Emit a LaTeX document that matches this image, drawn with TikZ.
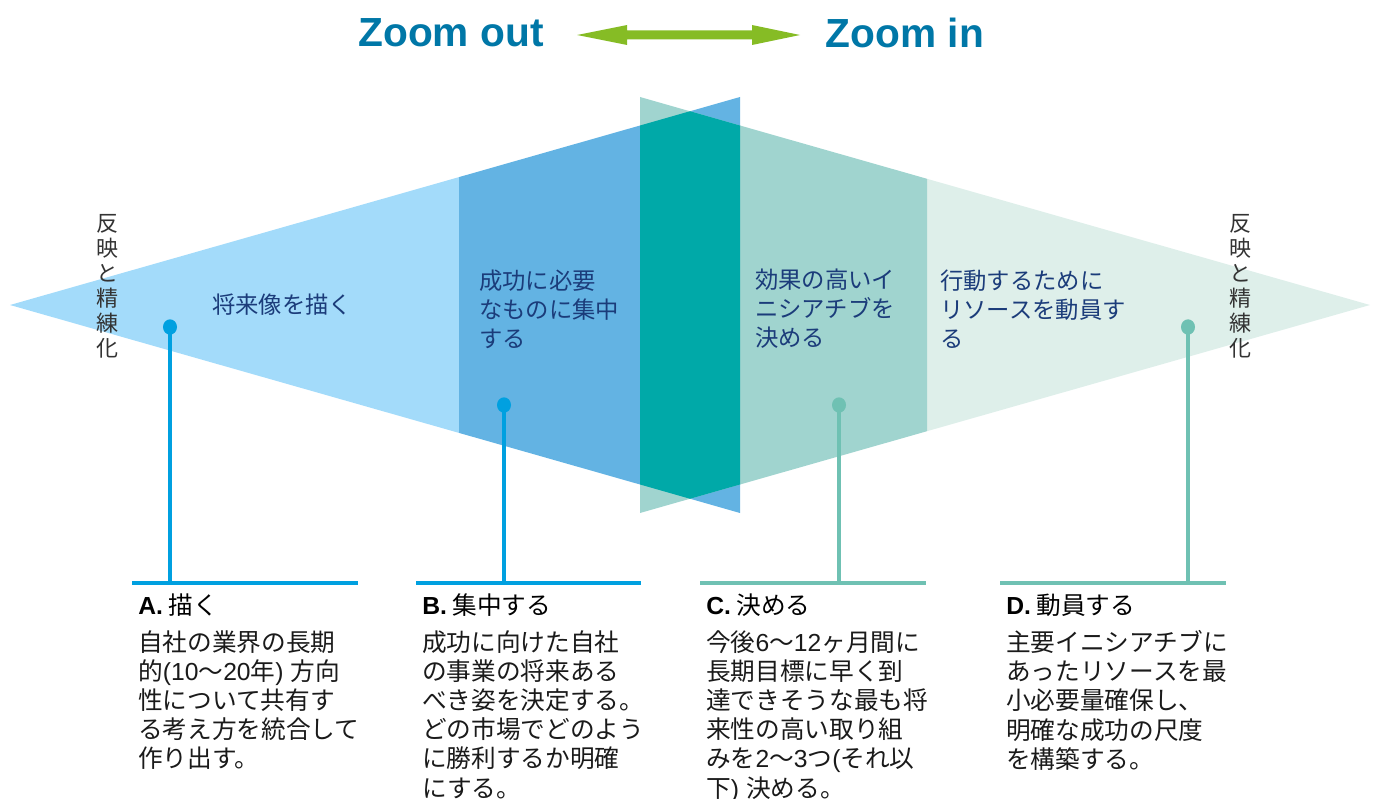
\documentclass[tikz,border=0pt]{standalone}
\usepackage{fontspec}
\setmainfont{Noto Sans CJK JP}
\newfontfamily\lat{Liberation Sans}
\usetikzlibrary{shapes.geometric}
\definecolor{ltblue}{HTML}{A3DBFA}
\definecolor{mdblue}{HTML}{63B3E3}
\definecolor{dkteal}{HTML}{00A9A8}
\definecolor{mdteal}{HTML}{A0D4CF}
\definecolor{ltteal}{HTML}{DEEFEA}
\definecolor{titleblue}{HTML}{0077A7}
\definecolor{arrowgreen}{HTML}{86BC25}
\definecolor{lineblue}{HTML}{00A0E0}
\definecolor{lineteal}{HTML}{6FC1B3}
\definecolor{navy}{HTML}{1B3C7A}
\definecolor{bodytext}{HTML}{1A1A1A}
\tikzset{
  titletext/.style={font=\lat\bfseries\fontsize{30.5}{36}\selectfont, text=titleblue, inner sep=0},
  lbl/.style={font=\fontsize{17.5}{21.75}\selectfont, text=navy, align=left, anchor=west, inner sep=0},
  vtext/.style={font=\fontsize{16.5}{18.75}\selectfont, text=black!80, align=center, inner sep=0},
  headtext/.style={font=\fontsize{18.5}{21.9}\selectfont, text=black, anchor=west, inner sep=0},
  body/.style={font=\fontsize{18.5}{21.9}\selectfont, text=bodytext, align=left, anchor=north west, inner sep=0},
  dotblue/.style={ellipse, fill=lineblue, minimum width=10.5pt, minimum height=11.5pt, inner sep=0},
  dotteal/.style={ellipse, fill=lineteal, minimum width=10.5pt, minimum height=11.5pt, inner sep=0},
  stemblue/.style={draw=lineblue, line width=3pt},
  stemteal/.style={draw=lineteal, line width=3pt},
}
\begin{document}
\begin{tikzpicture}[x=0.75pt,y=-0.75pt]
\useasboundingbox (0,0) rectangle (1378,799);
% ---- title ----
\node[titletext] (zout) at (451,33) {Zoom out};
\node[titletext] (zin) at (905,33) {Zoom in};
\fill[arrowgreen] (577,35) -- (627,25) -- (627,30.5) -- (752,30.5) -- (752,25) -- (800,35)
  -- (752,45) -- (752,39.5) -- (627,39.5) -- (627,45) -- cycle;
% ---- left triangle ----
\fill[ltblue] (10,305) -- (459,177.1) -- (459,432.9) -- cycle;
\fill[mdblue] (459,177.1) -- (740,97) -- (740,513) -- (459,432.9) -- cycle;
% ---- right triangle ----
\fill[ltteal] (1370,305) -- (927,178.8) -- (927,431.2) -- cycle;
\fill[mdteal] (640,97) -- (927,178.8) -- (927,431.2) -- (640,513) -- cycle;
% ---- overlap ----
\fill[dkteal] (640,125.5) -- (690,111.25) -- (740,125.5) -- (740,484.5) -- (690,498.75) -- (640,484.5) -- cycle;
% ---- labels in triangles ----
\node[lbl, anchor=center] (lA) at (282,305) {将来像を描く};
\node[lbl] (lB) at (479,309) {成功に必要\\なものに集中\\する};
\node[lbl] (lC) at (755,309) {効果の高いイ\\ニシアチブを\\決める};
\node[lbl] (lD) at (940,309) {行動するために\\リソースを動員す\\る};
% ---- vertical texts ----
\node[vtext] (vL) at (107,286) {反\\映\\と\\精\\練\\化};
\node[vtext] (vR) at (1240,286) {反\\映\\と\\精\\練\\化};
% ---- stems ----
\coordinate (bA1) at (132,583); \coordinate (bA2) at (358,583); \coordinate (sA) at (170,583);
\coordinate (bB1) at (416,583); \coordinate (bB2) at (641,583); \coordinate (sB) at (504,583);
\coordinate (bC1) at (700,583); \coordinate (bC2) at (926,583); \coordinate (sC) at (839,583);
\coordinate (bD1) at (1000,583); \coordinate (bD2) at (1226,583); \coordinate (sD) at (1188,583);
\node[dotblue] (dA) at (170,327) {};
\node[dotblue] (dB) at (504,405) {};
\node[dotteal] (dC) at (839,405) {};
\node[dotteal] (dD) at (1188,327) {};
\draw[stemblue] (dA.center) -- (sA);
\draw[stemblue] (bA1) -- (bA2);
\draw[stemblue] (dB.center) -- (sB);
\draw[stemblue] (bB1) -- (bB2);
\draw[stemteal] (dC.center) -- (sC);
\draw[stemteal] (bC1) -- (bC2);
\draw[stemteal] (dD.center) -- (sD);
\draw[stemteal] (bD1) -- (bD2);
% ---- bottom texts ----
\node[headtext] (hA) at (138,605) {{\lat\bfseries A.} 描く};
\node[body] (tA) at (138,630) {自社の業界の長期\\的{\lat (10}～{\lat 20}年{\lat ) }方向\\性について共有す\\る考え方を統合して\\作り出す。};
\node[headtext] (hB) at (422,605) {{\lat\bfseries B.} 集中する};
\node[body] (tB) at (422,630) {成功に向けた自社\\の事業の将来ある\\べき姿を決定する。\\どの市場でどのよう\\に勝利するか明確\\にする。};
\node[headtext] (hC) at (706,605) {{\lat\bfseries C.} 決める};
\node[body] (tC) at (706,630) {今後{\lat 6}～{\lat 12}ヶ月間に\\長期目標に早く到\\達できそうな最も将\\来性の高い取り組\\みを{\lat 2}～{\lat 3}つ{\lat (}それ以\\下{\lat ) }決める。};
\node[headtext] (hD) at (1006,605) {{\lat\bfseries D.} 動員する};
\node[body] (tD) at (1006,630) {主要イニシアチブに\\あったリソースを最\\小必要量確保し、\\明確な成功の尺度\\を構築する。};
\end{tikzpicture}
\end{document}
